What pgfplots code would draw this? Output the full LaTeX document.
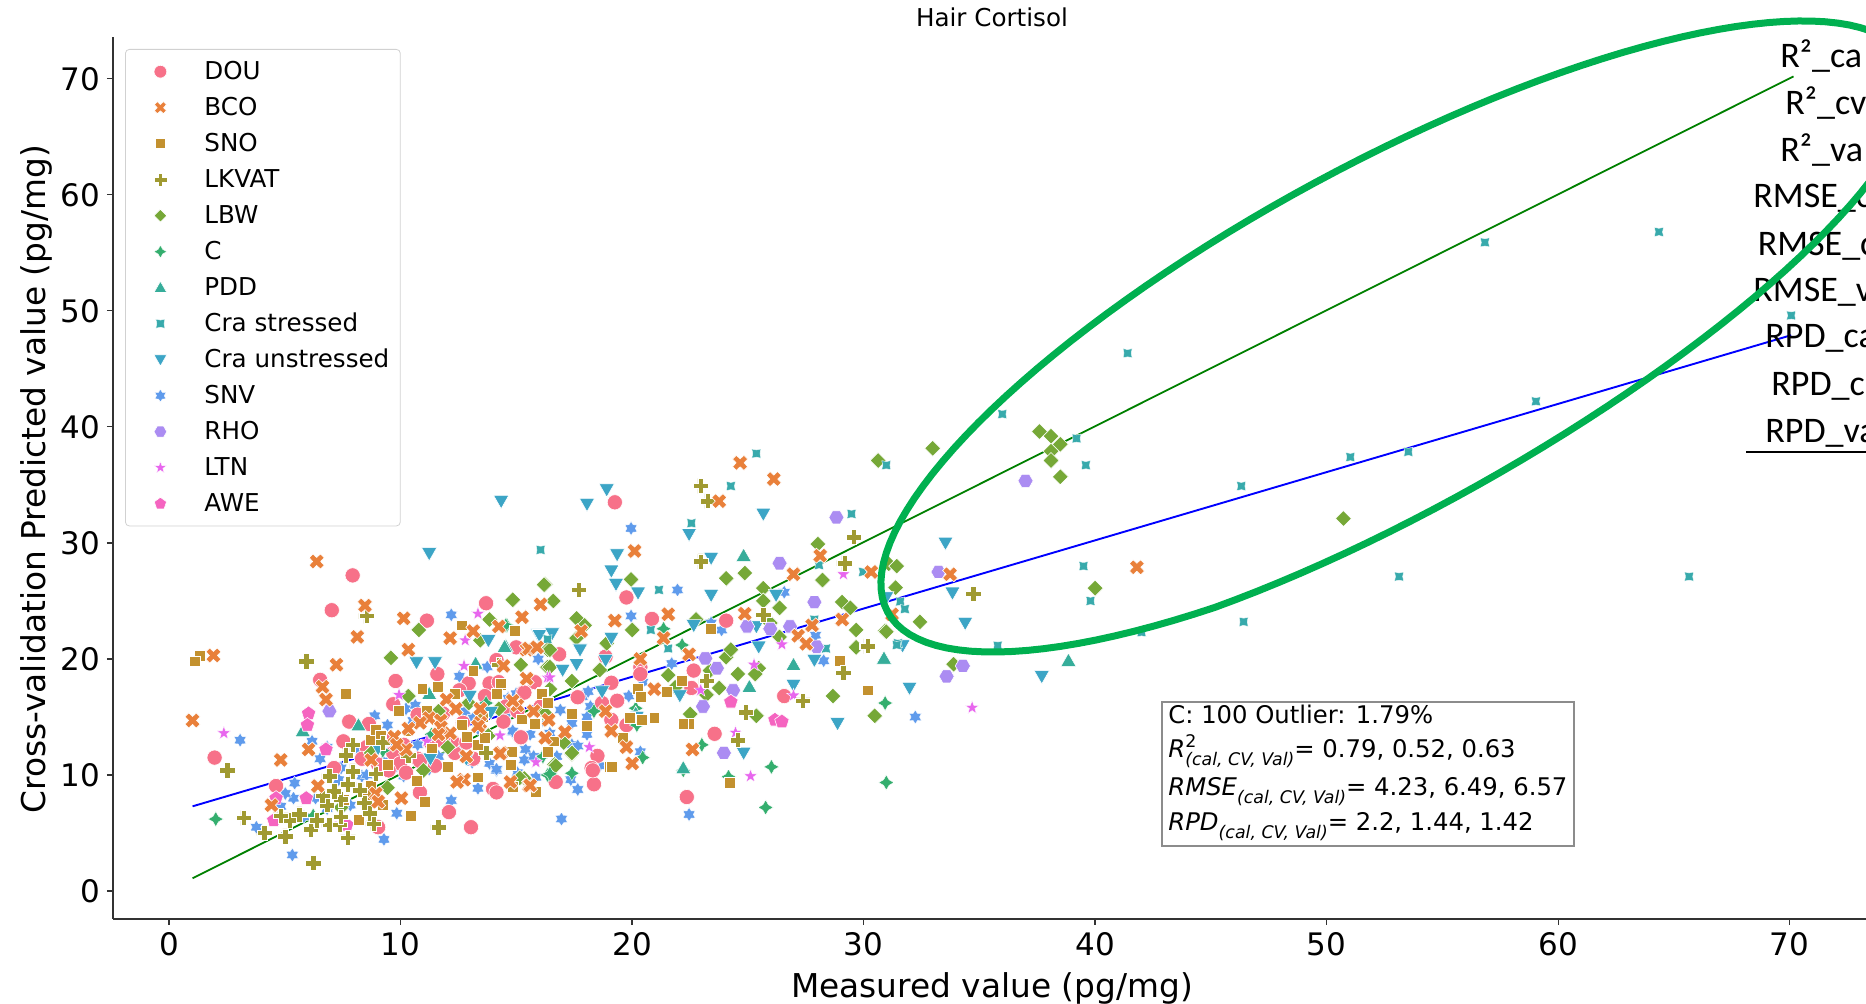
\documentclass[border=0pt]{standalone}
\usepackage{fontspec}
\usepackage{pgfplots}
\pgfplotsset{compat=1.18}
\setmainfont{DejaVu Sans}
\newfontfamily\calibri{Carlito}
\definecolor{cDOU}{HTML}{F77189}
\definecolor{cBCO}{HTML}{E9803A}
\definecolor{cSNO}{HTML}{C3912F}
\definecolor{cLKV}{HTML}{A09A31}
\definecolor{cLBW}{HTML}{76A837}
\definecolor{cC}{HTML}{34AE6E}
\definecolor{cPDD}{HTML}{36AD9A}
\definecolor{cCS}{HTML}{38AAAC}
\definecolor{cCU}{HTML}{3CA5C6}
\definecolor{cSNV}{HTML}{5F9BEC}
\definecolor{cRHO}{HTML}{AB8CF2}
\definecolor{cLTN}{HTML}{E866EE}
\definecolor{cAWE}{HTML}{F564C0}
\definecolor{ell}{HTML}{00B050}
\newcommand\mkpoly[2]{\pgfdeclareplotmark{#1}{%
  \foreach[count=\i] \a/\b in {#2}{%
    \ifnum\i=1 \pgfpathmoveto{\pgfpoint{\a\pgfplotmarksize}{\b\pgfplotmarksize}}%
    \else \pgfpathlineto{\pgfpoint{\a\pgfplotmarksize}{\b\pgfplotmarksize}}\fi}%
  \pgfpathclose\pgfusepathqfillstroke}}
\mkpoly{mX}{0/.5,-.47/.94,-.94/.47,-.5/0,-.94/-.47,-.47/-.94,0/-.5,.47/-.94,.94/-.47,.5/0,.94/.47,.47/.94}
\mkpoly{mP}{.36/.36,.36/1,-.36/1,-.36/.36,-1/.36,-1/-.36,-.36/-.36,-.36/-1,.36/-1,.36/-.36,1/-.36,1/.36}
\mkpoly{mS}{.78/.78,-.78/.78,-.78/-.78,.78/-.78}
\mkpoly{mD}{1/0,0/1,-1/0,0/-1}
\mkpoly{mC}{1/0,.36/.36,0/1,-.36/.36,-1/0,-.36/-.36,0/-1,.36/-.36}
\mkpoly{mU}{0/1,-1/-.75,1/-.75}
\mkpoly{mV}{0/-1,-1/.75,1/.75}
\mkpoly{mK}{.71/.71,0/.56,-.71/.71,-.56/0,-.71/-.71,0/-.56,.71/-.71,.56/0}
\mkpoly{mH}{0/1,-.3/.52,-.866/.5,-.6/0,-.866/-.5,-.3/-.52,0/-1,.3/-.52,.866/-.5,.6/0,.866/.5,.3/.52}
\mkpoly{mX6}{1/0,.5/.866,-.5/.866,-1/0,-.5/-.866,.5/-.866}
\mkpoly{mT}{0/1,-.235/.324,-.951/.309,-.38/-.124,-.588/-.809,0/-.4,.588/-.809,.38/-.124,.951/.309,.235/.324}
\mkpoly{mF}{0/1,-.951/.309,-.588/-.809,.588/-.809,.951/.309}
\pgfplotsset{
  sDOU/.style={only marks,mark=*,mark size=3.8pt,mark options={fill=cDOU,draw=white,line width=.3pt}},
  sBCO/.style={only marks,mark=mX,mark size=4pt,mark options={fill=cBCO,draw=white,line width=.3pt}},
  sSNO/.style={only marks,mark=mS,mark size=3.5pt,mark options={fill=cSNO,draw=white,line width=.3pt}},
  sLKV/.style={only marks,mark=mP,mark size=3.8pt,mark options={fill=cLKV,draw=white,line width=.3pt}},
  sLBW/.style={only marks,mark=mD,mark size=4pt,mark options={fill=cLBW,draw=white,line width=.3pt}},
  sC/.style={only marks,mark=mC,mark size=3.8pt,mark options={fill=cC,draw=white,line width=.2pt}},
  sPDD/.style={only marks,mark=mU,mark size=3.8pt,mark options={fill=cPDD,draw=white,line width=.3pt}},
  sCS/.style={only marks,mark=mK,mark size=3.2pt,mark options={fill=cCS,draw=white,line width=.2pt}},
  sCU/.style={only marks,mark=mV,mark size=3.8pt,mark options={fill=cCU,draw=white,line width=.3pt}},
  sSNV/.style={only marks,mark=mH,mark size=3.5pt,mark options={fill=cSNV,draw=white,line width=.2pt}},
  sRHO/.style={only marks,mark=mX6,mark size=3.8pt,mark options={fill=cRHO,draw=white,line width=.3pt}},
  sLTN/.style={only marks,mark=mT,mark size=3.6pt,mark options={fill=cLTN,draw=white,line width=.2pt}},
  sAWE/.style={only marks,mark=mF,mark size=3.8pt,mark options={fill=cAWE,draw=white,line width=.3pt}},
}
\newcommand\subt[1]{\raisebox{-3.8pt}{\fontsize{8.7}{8.7}\selectfont\itshape #1}}
\newcommand\supt[1]{\raisebox{5pt}{\fontsize{8.7}{8.7}\selectfont #1}}
\begin{document}
\begin{tikzpicture}[x=1pt,y=1pt,
  declare function={ep(\t)=290*cos(\t); eq(\t)=87.4*sin(\t)+(\t>240?4.3*sin((\t-240)*1.5):0);}]
\path[use as bounding box] (0,0) rectangle (933,502);
\clip (0,0) rectangle (933,502);
\begin{axis}[
  at={(56.5pt,42.5pt)},anchor=south west,scale only axis,
  width=876.5pt,height=441pt,
  xmin=-2.42,xmax=73.3,ymin=-2.41,ymax=73.6,
  x filter/.expression={1.0022*x-0.086},
  axis x line*=bottom,axis y line*=left,
  axis line style={-,color=black!80,line width=.7pt},
  every tick/.style={color=black!80,line width=.6pt},
  tick align=outside,major tick length=3pt,
  xtick={0,10,...,70},ytick={0,10,...,70},
  /pgf/number format/assume math mode=true,
  tick label style={font=\fontsize{15.5}{15.5}\selectfont},
  label style={font=\fontsize{16.4}{16.4}\selectfont},
  xlabel={Measured value (pg/mg)},
  ylabel={Cross-validation Predicted value (pg/mg)},
  xlabel style={at={(0.5014,0)},anchor=base,yshift=-39.4pt},
  ylabel style={at={(0,0.4985)},anchor=base,yshift=33.7pt,rotate=0},
  title={Hair Cortisol},
  title style={at={(0.5014,1)},anchor=base,yshift=-1pt,font=\fontsize{12.3}{12.3}\selectfont},
  legend style={at={(0.00685,0.9864)},anchor=north west,draw=black!18,rounded corners=2pt,fill=white,
    font=\fontsize{12.3}{12.3}\selectfont,inner xsep=5.5pt,inner ysep=5.5pt,row sep=6.7pt,
    nodes={inner sep=0pt,text height=9.5pt,text depth=1.8pt}},
  legend cell align=left,
  legend image code/.code={\path[draw=none,fill=none,rounded corners=0pt] (-12pt,-4pt) rectangle (22pt,4pt);\draw[#1,mark size=3.2pt] plot coordinates {(0pt,0pt)};},
]
\addlegendimage{sDOU}\addlegendentry{DOU}
\addlegendimage{sBCO}\addlegendentry{BCO}
\addlegendimage{sSNO}\addlegendentry{SNO}
\addlegendimage{sLKV}\addlegendentry{LKVAT}
\addlegendimage{sLBW}\addlegendentry{LBW}
\addlegendimage{sC}\addlegendentry{C}
\addlegendimage{sPDD}\addlegendentry{PDD}
\addlegendimage{sCS}\addlegendentry{Cra stressed}
\addlegendimage{sCU}\addlegendentry{Cra unstressed}
\addlegendimage{sSNV}\addlegendentry{SNV}
\addlegendimage{sRHO}\addlegendentry{RHO}
\addlegendimage{sLTN}\addlegendentry{LTN}
\addlegendimage{sAWE}\addlegendentry{AWE}
% SNV
\addplot[sSNV,forget plot] coordinates {(12.25,23.8)(3.15,13)(16,20)(13.8,19.3)(12.6,18.5)(8.95,15.1)(9.5,14.3)(10.3,15.7)(10.7,16)(12.85,15.5)(14.7,16.6)(15.1,17)(14.9,13.7)(15.45,12.2)(15.4,11.3)(13.9,11)(14.2,10.4)(15.1,10.2)(15.9,9.8)(13.15,11.1)(13.4,8.85)(12.25,7.8)(9.9,6.7)(9.35,4.45)(5.4,3.1)(3.85,5.5)(5.45,8)(5.1,8.4)(5.5,9.3)(6.6,11.4)(7.5,10.6)(6.25,12.9)(6.9,12.4)(8.4,9.9)(8.6,10)(6.4,8)(20,31.25)(22,25.95)(20,23.7)(26.6,25.75)(23.45,23.1)(23.9,22.5)(27.95,22.05)(16,20)(20.5,18)(21.75,19.6)(17.9,16.75)(18.15,17.2)(19.9,16.8)(14.7,16.6)(15.05,17)(16.95,15.6)(18.25,15.9)(18.1,15)(17.45,14.45)(14.9,13.8)(15.65,13.5)(16.5,13.6)(18.1,13.5)(17.45,12.6)(15.8,11.6)(16.8,11.6)(20.4,12)(28.3,19.85)(17,6.2)(22.5,6.6)(17.7,8.75)(14.2,10.5)(18.65,10.8)(17.4,9.6)(17.7,12.5)(32.25,15)(13.4,14)(12.1,13.2)(10.8,12.6)(9.7,12.9)(8.2,12.2)(7.4,9.6)(8.9,8.6)(9.3,11.2)(10.2,9.9)(11.7,11.6)(12.6,12.2)(6.9,7.1)(5.9,6.4)(7.9,7.4)(4.9,7.3)(10.6,14.7)(13.2,14.9)(14.6,15)(16.1,14.5)(11.3,10.5)(9.9,10.8)};
% DOU
\addplot[sDOU,forget plot] coordinates {(8,27.2)(7.1,24.2)(2.05,11.5)(13.75,24.8)(11.2,23.3)(6.6,18.2)(9.85,18.1)(11.65,18.7)(7.85,14.6)(8.7,14.4)(7.6,12.9)(9.75,16.1)(15.05,21)(14.2,19.9)(15.85,18)(13.9,17.9)(14.3,18)(13,17.9)(10.8,15.2)(12.75,14.5)(8.6,12.4)(9.75,11.9)(8.4,11.4)(10.05,11)(9.55,10.4)(10.8,11.4)(11.55,10.8)(12.4,11.9)(15.25,13.2)(14.5,14.6)(4.7,9.05)(14.05,8.8)(10.9,8.5)(12.15,6.8)(13.1,5.5)(9.1,5.5)(12.3,12.9)(15.35,17.1)(19.3,33.5)(19.8,25.3)(20.9,23.45)(24.1,23.3)(16.9,20.4)(15.85,18)(15.4,17.1)(19.15,17.95)(20.4,19.3)(22.7,19)(22.6,17.5)(19.4,16.4)(19.15,14.75)(19.8,14.3)(15.25,13.25)(26.6,16.8)(23.6,13.55)(18.55,11.65)(18.9,20.2)(18.75,16.2)(18.3,10.6)(22.4,8.1)(16.75,9.4)(18.4,9.2)(18.35,10.4)(14.2,8.5)(20.4,18.7)(12.9,12.8)(11.4,12.7)(10.9,11.2)(13.7,16.8)(12.6,17.3)(11.9,15.3)(14.6,15.9)(9.1,10.9)(10.3,10.2)(11.9,12.9)(10.2,12.6)(9.4,13.1)(13.2,11.4)(16.1,15.9)(17.7,16.7)(15.1,15.5)(7.2,10.6)};
% LBW
\addplot[sLBW,forget plot] coordinates {(16.3,26.4)(14.9,25.1)(10.85,22.5)(9.65,20.1)(10.4,16.8)(13.9,23.4)(13.5,21.6)(15.25,19.5)(16.4,19.3)(13.85,13.4)(11.05,10.4)(9.5,8.9)(7.5,7.2)(16.4,20.8)(14.3,15.7)(16.1,15.2)(15.4,9.7)(11.7,15.5)(16.25,26.4)(16.65,25)(20,26.85)(17.65,23.5)(18,22.9)(20.05,22.5)(17.65,21.8)(16.5,20.8)(16.5,19.3)(18.95,21.35)(18.65,19.05)(17.45,18.1)(16.5,17.4)(16.3,15.3)(17.1,12.8)(17.45,11.8)(16.7,10.9)(21.6,18.6)(21.9,17.55)(23.4,19)(23.25,16.9)(23.8,17.5)(22.55,15.25)(24.1,26.95)(24.9,27.4)(25.7,26.1)(25.7,25)(26.4,24.4)(26,23.1)(26.4,21.9)(24.1,20.15)(24.3,20.8)(24.6,18.7)(25.5,19.2)(25.35,18.7)(28.05,29.9)(28.25,26.8)(29.1,24.9)(29.45,24.4)(29.7,22.5)(29.7,21)(30.95,22.4)(28.7,16.8)(30.5,15.1)(25.4,15.1)(30.65,37.1)(31.1,28.2)(31.45,28)(31.4,26.15)(22.8,23.4)(37.6,39.6)(38.1,39.2)(38.5,38.5)(38.1,37.9)(38.1,37.1)(38.5,35.7)(33,38.15)(40,26.1)(33.9,19.55)(32.45,23.2)(31,22.35)(50.7,32.1)(16.75,10.8)(15.2,9.75)(17.45,11.9)(12.1,12.4)(13,16.2)(8.8,11.9)};
% C
\addplot[sC,forget plot] coordinates {(2.1,6.2)(6.3,6.5)(14.65,22.9)(13.75,16.2)(16.2,11.6)(16.4,10)(14.6,22.9)(21.4,22.6)(22.2,21.2)(18.4,15.5)(20.2,15.75)(20.25,14.3)(16.2,11.6)(20.5,11.5)(23.05,12.6)(26.05,10.7)(30.95,16.2)(22.25,10.4)(24.2,9.85)(31,9.35)(25.8,7.2)(17.45,10.15)(16.5,10.1)(11.4,13.5)(9.3,12.1)};
% PDD
\addplot[sPDD,forget plot] coordinates {(14.6,21.1)(11.3,17)(5.85,13.8)(13.3,19.6)(8.25,14.3)(14.55,21.05)(24.85,28.9)(27,19.5)(25.1,17.6)(30.9,20.05)(22.25,10.6)(38.85,19.85)(20.2,15.3)};
% Cra unstressed
\addplot[sCU,forget plot] coordinates {(13.85,21.6)(16,22.1)(10.75,19.7)(11.55,19.7)(13.05,16.8)(13.95,15.4)(11.35,11.4)(12.9,11.4)(9.1,12.3)(18.95,34.6)(18.1,33.35)(14.4,33.6)(19.4,29)(22.5,30.75)(25.7,32.5)(23.45,28.7)(19.15,27.6)(19.35,26.45)(20.3,25.7)(23.45,25.5)(26.25,25.5)(22.7,22.9)(19.15,21.8)(16.05,22.05)(16.6,22.2)(17.8,20.8)(17.65,19.55)(17.05,19.05)(18.9,19.9)(25.4,22.8)(25.5,21.05)(27.9,19.9)(27,17.75)(18.75,17.2)(22.1,16.85)(20.25,15)(28.9,14.45)(24.85,11.9)(31,25.3)(33.55,30)(33.85,25.7)(34.4,23.1)(31.7,21.15)(37.7,18.5)(32,17.5)(11.3,29.1)};
% Cra stressed
\addplot[sCS,forget plot] coordinates {(25.4,37.7)(24.3,34.9)(31,36.7)(22.6,31.7)(29.5,32.5)(16.1,29.4)(21.2,25.95)(16.4,21.7)(20.85,22.5)(21.6,20.9)(28.1,28.1)(27.9,23.4)(28.4,20.9)(31.5,21.35)(36,41.1)(39.2,39)(39.6,36.7)(46.3,34.9)(39.5,28)(39.8,25)(46.4,23.2)(42,22.3)(35.8,21.15)(31.6,24.95)(31.8,24.3)(31.45,21.2)(30,27.5)(41.4,46.35)(56.8,55.9)(64.3,56.8)(70,49.6)(59,42.2)(51,37.4)(53.5,37.85)(53.1,27.1)(65.6,27.1)};
% RHO
\addplot[sRHO,forget plot] coordinates {(7,15.5)(28.85,32.2)(26.4,28.25)(27.9,24.9)(25,22.8)(26,22.6)(26.85,22.8)(28,21.05)(23.2,20.05)(23.7,19.2)(24.4,17.3)(23.1,15.9)(24,11.9)(37,35.35)(33.25,27.5)(34.3,19.4)(33.6,18.5)};
% LTN
\addplot[sLTN,forget plot] coordinates {(2.45,13.6)(13.4,23.9)(12.85,21.6)(12.8,19.4)(11.2,12.9)(15.9,11.1)(14.35,13.4)(16.4,18.4)(10,16.9)(29.15,27.3)(16.5,18.4)(26.5,21.25)(25.3,19.5)(18.2,12.4)(24.5,13.65)(27,16.85)(23,17.3)(34.7,15.8)(25.15,9.9)(7.5,5.8)};
% AWE
\addplot[sAWE,forget plot] coordinates {(6.1,15.3)(6.05,14.3)(6.85,12.2)(4.7,8)(6,8)(4.6,6.1)(7.75,5.7)(24.3,16.3)(26.2,14.75)(26.5,14.6)};
% SNO
\addplot[sSNO,forget plot] coordinates {(1.4,20.3)(1.2,19.8)(7.7,17)(12.7,22.9)(15,22.4)(11,17.4)(11.65,17.6)(10,15.5)(13.2,19)(14.4,17.8)(12.4,17)(16.2,17.1)(14.2,17)(9.5,10.9)(12.1,10.7)(14.9,11.9)(14.8,10.9)(10.75,9.5)(13.4,9.8)(11.1,7.7)(10.5,6.5)(8.25,6.1)(15.9,8.6)(8.8,9.1)(7.6,7.9)(13.4,12.6)(12.9,13.3)(8.8,13)(9,13.9)(11.2,15.5)(13.6,15)(15.3,14.8)(15.9,14.5)(16.4,12)(20.3,17.4)(20.4,16.75)(21,14.9)(22.2,18.1)(21.55,17.2)(22.5,14.45)(22.25,14.45)(19.95,14.9)(20.45,14.75)(19.65,13.2)(16.65,12.9)(18.1,14.2)(29,19.85)(30.2,17.3)(19.1,10.7)(14.85,12)(14.4,17.9)(16.15,17)(16.4,16.2)(15.85,14.45)(23.45,22.6)(19.15,10.7)(24.25,9.35)(15.9,8.55)(14.9,9)(17.45,15.3)(9.2,13.4)(10.4,13.8)(11.4,12.3)(12.7,14.3)(13.7,13.2)(8.6,8.3)(9.3,7.4)};
% LKVAT
\addplot[sLKV,forget plot] coordinates {(6,19.8)(8.6,23.7)(2.6,10.4)(3.3,6.3)(4.2,5)(5.1,4.7)(6.3,2.4)(7.8,4.6)(11.7,5.5)(6.2,5.3)(7,5.7)(5.3,6.1)(5.7,6.6)(4.9,6.5)(6.9,7.4)(7.5,7.9)(7.2,8.6)(7.8,9.2)(7,9.9)(8,10.3)(7.7,11.7)(8,12.6)(9.3,12.8)(8.75,6.7)(8.5,7.6)(6.45,6.1)(13.75,11.9)(7.45,5.7)(23,34.9)(23.3,33.6)(23,28.4)(29.6,30.5)(29.2,28.25)(17.75,25.95)(25.7,23.8)(30.15,21.1)(29.15,18.8)(23.25,18.1)(27.4,16.4)(24.95,15.4)(24.6,13)(34.75,25.6)(30.2,21.1)(14.3,19.5)(6.7,8.2)(8.3,8.7)(9,10.1)(10.4,11.7)(8.9,5.8)(7.5,6.4)};
% BCO
\addplot[sBCO,forget plot] coordinates {(6.45,28.4)(8.53,24.6)(2,20.3)(8.2,21.9)(7.3,19.5)(10.2,23.5)(15.3,23.6)(16.1,24.7)(12.2,21.8)(13.2,22.4)(10.4,20.8)(6.7,17.6)(6.85,16.5)(1.1,14.7)(4.9,11.3)(6.1,12.2)(14.5,19.4)(15.5,20.8)(12.05,16.5)(12.45,15.7)(11.3,14.9)(10.9,14.5)(10.4,14)(9.8,13.3)(11.8,14.7)(10.3,12.2)(14.4,11.9)(12.8,9.6)(12.5,9.4)(14.8,9.4)(15.6,9.1)(6.5,9.05)(9,8.4)(10.1,8)(4.5,7.4)(9.1,7.7)(24.7,36.9)(26.15,35.5)(23.8,33.6)(20.15,29.3)(21.6,23.85)(19.3,23.3)(17.85,22.4)(15.6,20.9)(24.9,23.9)(27,27.3)(28.15,28.9)(30.35,27.5)(27.2,22)(27.8,22.9)(29.1,23.4)(22.5,20.4)(20.4,20)(21.4,21.8)(21,17.4)(18.9,15.5)(16.45,14.75)(17.15,13.7)(19.15,13.8)(19.8,12.4)(20.05,11)(22.65,12.2)(27.55,21.3)(31.25,23.85)(33.75,27.3)(41.8,27.9)(15.95,21)(15.5,18.3)(14.3,22.8)(13.5,15.7)(15.1,16)(13.5,14.5)(12.2,13.6)(11.8,14.1)(14.35,11.85)(15.65,9.1)(8.8,11.3)(9.9,12.6)(11.7,13.5)(12.9,11.6)(13.4,14.2)(14.9,16.4)(15.8,15.5)(16.3,13.2)};
% fitted lines
\addplot[color=blue,line width=.95pt,forget plot] coordinates {(1.1,7.3)(70,47.9)};
\addplot[color=green!50!black,line width=.9pt,forget plot] coordinates {(1.1,1.1)(70.1,70.2)};
\end{axis}
% statistics box
\draw[black!45,line width=.6pt,fill=white] (581,79) rectangle (787,151);
\node[anchor=base west,inner sep=0pt,font=\fontsize{12.15}{12.15}\selectfont] at (584,140) {C: 100 Outlier: 1.79\%};
\node[anchor=base west,inner sep=0pt,font=\fontsize{12.15}{12.15}\selectfont] at (584,123) {\textit{R}\rlap{\supt{2}}\subt{(cal, CV, Val)}= 0.79, 0.52, 0.63};
\node[anchor=base west,inner sep=0pt,font=\fontsize{12.15}{12.15}\selectfont] at (584,104) {\textit{RMSE}\subt{(cal, CV, Val)}= 4.23, 6.49, 6.57};
\node[anchor=base west,inner sep=0pt,font=\fontsize{12.15}{12.15}\selectfont] at (584,86.5) {\textit{RPD}\subt{(cal, CV, Val)}= 2.2, 1.44, 1.42};
% pasted table text at the right edge
\begin{scope}[every node/.style={anchor=base west,inner sep=0pt,font=\calibri\fontsize{18}{18}\selectfont}]
\node at (890,468) {R²\_ca};
\node at (892.5,444.5) {R²\_cv};
\node at (890,421) {R²\_va};
\node at (876.5,398) {RMSE\_c};
\node at (878.7,374) {RMSE\_c};
\node at (876.5,351) {RMSE\_v};
\node at (882.5,328) {RPD\_ca};
\node at (885.5,304) {RPD\_c};
\node at (882.5,280.5) {RPD\_va};
\end{scope}
\draw[black,line width=1pt] (873,276) -- (933,276);
% hand-drawn ellipse
\draw[ell,line width=3.5pt,domain=0:360,samples=145] plot ({699+.880*ep(\x)-.475*eq(\x)},{333.75+.475*ep(\x)+.880*eq(\x)}) -- cycle;
\end{tikzpicture}
\end{document}
